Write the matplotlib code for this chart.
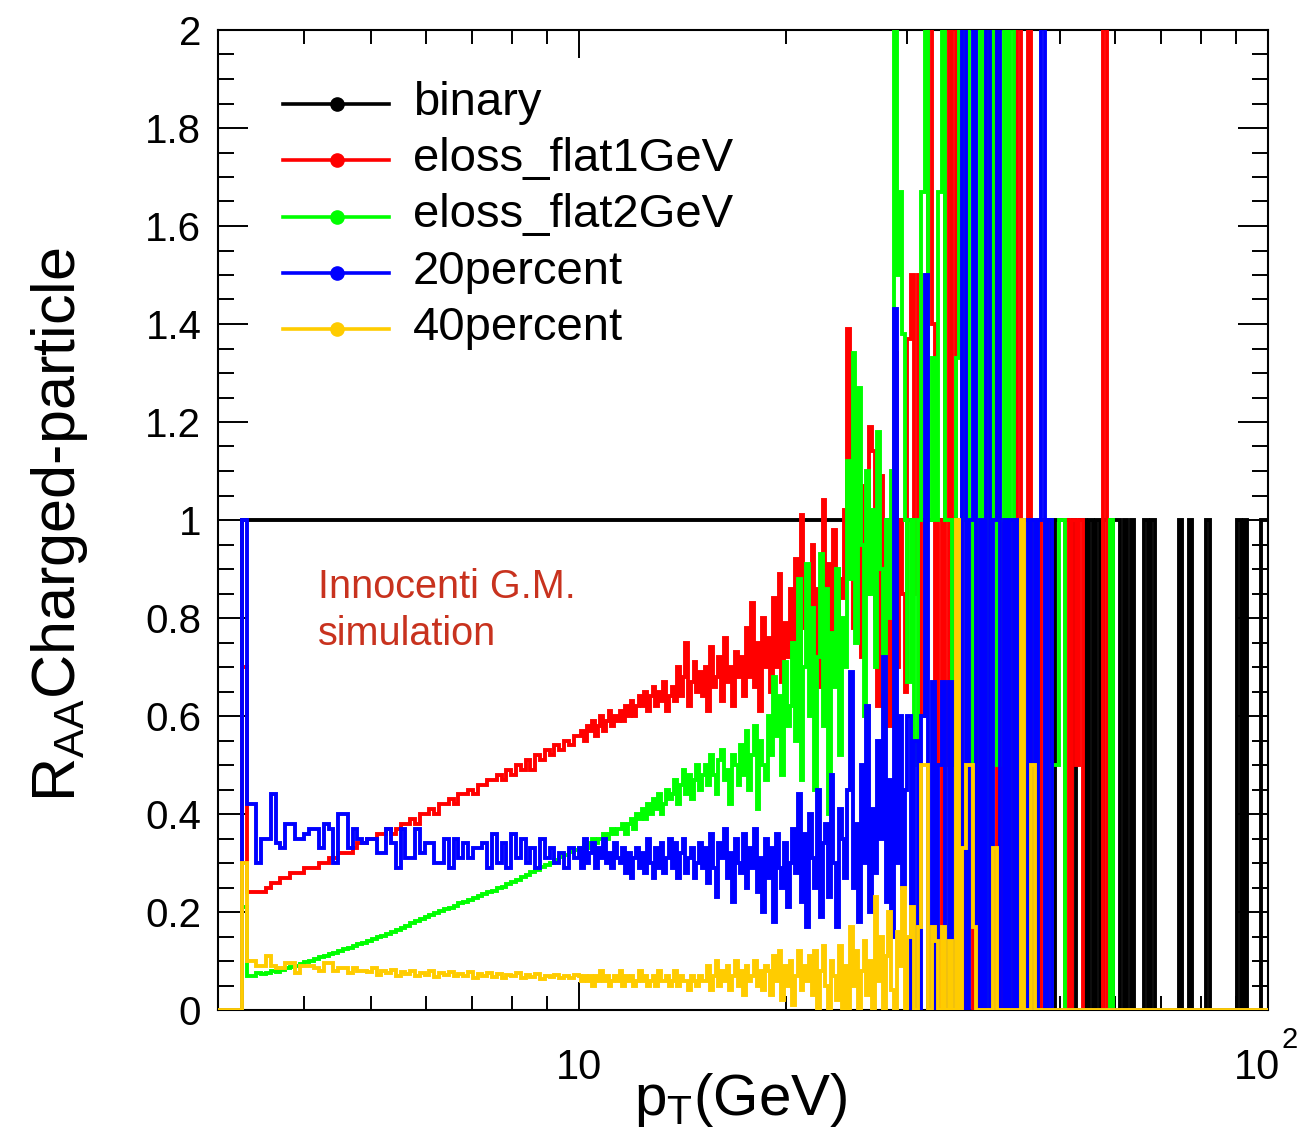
import numpy as np
import matplotlib.pyplot as plt
from matplotlib.lines import Line2D
from matplotlib.ticker import FixedLocator, NullFormatter

plt.rcParams['font.family'] = ['Liberation Sans', 'DejaVu Sans']
plt.rcParams['mathtext.default'] = 'regular'

# pT binning (GeV): empty bin below 3.25, then log bins in three ranges
pt_min = 3.0
pt_first = 3.25
pt_knee1 = 10.0
pt_knee2 = 30.0
pt_max = 100.0
n_high = 105  # bins between 30 and 100 GeV

labels = ['binary', 'eloss_flat1GeV', 'eloss_flat2GeV', '20percent', '40percent']
colors = ['#000000', '#ff0000', '#00ff00', '#0000ff', '#ffcc00']

# ---- binary (flat at 1 until the statistics run out) ----
binary_low = [1.0]
binary_mid = [1.0]
binary_high = [1, 1, 1, 1, 1, 1, 1, 1, 1, 1, 1, 1, 1, 1, 1, 1, 1, 1, 1, 1, 1,
               1, 1, 1, 1, 1, 1, 1, 1, 1, 1, 1, 1, 1, 1, 1, 1, 1, 1, 1, 1, 1,
               0, 1, 1, 1, 1, 1, 0, 1, 1, 1, 0, 1, 0, 1, 0, 1, 1, 0, 1, 1,
               0, 1, 0, 1, 0, 0, 0, 1, 0, 1, 0, 0, 0, 0, 0, 0, 0, 1, 0, 0,
               1, 0, 0, 0, 0, 1, 0, 0, 0, 0, 0, 0, 0, 0, 1, 0, 1, 0, 0, 0, 0,
               1, 1]

# ---- eloss_flat1GeV ----
flat1_low = [0.70,
             0.24, 0.24, 0.24, 0.24, 0.25, 0.26, 0.26, 0.27, 0.27, 0.28, 0.28, 0.28,
             0.29, 0.29, 0.29, 0.30, 0.30, 0.31, 0.31, 0.32, 0.32, 0.32, 0.33, 0.34, 0.34,
             0.35, 0.35, 0.36, 0.36, 0.37, 0.36, 0.37, 0.38, 0.38, 0.39, 0.38, 0.40, 0.40,
             0.41, 0.40, 0.42, 0.42, 0.43, 0.42, 0.44, 0.44, 0.45, 0.44, 0.46, 0.46, 0.47,
             0.47, 0.48, 0.47, 0.49, 0.48, 0.50, 0.49, 0.51, 0.49, 0.52, 0.51, 0.53, 0.52,
             0.54, 0.53, 0.55, 0.54, 0.56]
flat1_mid = [0.56, 0.57, 0.55, 0.58, 0.57, 0.59, 0.56, 0.58, 0.60, 0.57, 0.59, 0.61, 0.58, 0.60, 0.59,
             0.61, 0.59, 0.62, 0.60, 0.63, 0.60, 0.62, 0.64,
             0.62, 0.65, 0.61, 0.64, 0.66, 0.62, 0.65, 0.63, 0.67, 0.61, 0.64,
             0.66, 0.63, 0.70, 0.64, 0.68, 0.75, 0.62, 0.67, 0.71, 0.65, 0.69, 0.64,
             0.70, 0.61, 0.74, 0.66, 0.68, 0.72, 0.63, 0.76, 0.67, 0.70, 0.62, 0.73, 0.68,
             0.72, 0.64, 0.78, 0.68, 0.83, 0.66, 0.75, 0.61, 0.80, 0.70,
             0.76, 0.65, 0.84, 0.70, 0.89, 0.67, 0.79, 0.72, 0.86,
             0.74, 0.92, 0.68, 1.01, 0.78, 0.88, 0.70,
             0.95, 0.72, 0.86, 0.66, 1.04, 0.80, 0.91, 0.75, 0.98, 0.69, 0.88, 0.84, 1.02,
             1.39, 0.95, 0.78, 0.88, 1.06, 0.72, 1.07, 0.85, 1.19, 1.14, 0.80, 0.62, 1.09,
             0.75, 0.90, 0.58, 0.96, 1.34, 0.70, 1.00, 0.85, 0.65]
flat1_high = [1.37, 1.50, 0.85, 1.50, 0.60, 1.00, 3.00, 1.40, 0.50, 1.00,
              0.00, 3.00, 0.50, 3.00, 0.67, 1.00, 0.00, 0.50, 1.00, 0.00,
              1.00, 0.00, 0.50, 0.00, 1.00, 3.00, 0.00, 1.00, 0.00, 0.50,
              0.00, 1.00, 3.00, 0.00, 1.00, 3.00, 0.00, 0.50, 1.00, 0.00,
              1.00, 0.00, 0.00, 0.00, 0.00, 0.00, 1.00, 0.00, 1.00, 0.50,
              1.00, 0.00, 0.00, 0.00, 0.00, 0.00, 0.00, 3.00, 0.00]

# ---- eloss_flat2GeV ----
flat2_low = [0.21,
             0.070, 0.070, 0.075, 0.073, 0.076, 0.080, 0.078, 0.082, 0.085, 0.088,
             0.090, 0.094, 0.098, 0.100, 0.104, 0.108, 0.110, 0.114, 0.116, 0.120,
             0.124, 0.126, 0.130, 0.134, 0.136, 0.140, 0.145, 0.148, 0.152, 0.155,
             0.160, 0.164, 0.168, 0.172, 0.177, 0.181, 0.186, 0.190, 0.193, 0.198,
             0.202, 0.206, 0.209, 0.213, 0.218, 0.221, 0.225, 0.229, 0.232, 0.236,
             0.240, 0.243, 0.248, 0.252, 0.257, 0.261, 0.266, 0.271, 0.276, 0.281,
             0.286, 0.291, 0.296, 0.301, 0.306, 0.312, 0.317, 0.322, 0.327]
flat2_mid = [0.33, 0.33, 0.34, 0.33, 0.34, 0.35, 0.34, 0.35, 0.35, 0.36, 0.35, 0.36, 0.37, 0.36, 0.37,
             0.37, 0.38, 0.36, 0.38, 0.39, 0.37, 0.40, 0.39,
             0.41, 0.39, 0.42, 0.40, 0.43, 0.41, 0.44, 0.40, 0.42, 0.45, 0.43,
             0.44, 0.47, 0.42, 0.46, 0.49, 0.44, 0.48, 0.43, 0.47, 0.50, 0.45, 0.48,
             0.50, 0.46, 0.52, 0.48, 0.44, 0.51, 0.53, 0.47, 0.49, 0.42, 0.52, 0.50, 0.46,
             0.54, 0.48, 0.57, 0.45, 0.52, 0.58, 0.41, 0.55, 0.50, 0.47,
             0.60, 0.52, 0.68, 0.56, 0.64, 0.48, 0.71, 0.58, 0.62,
             0.75, 0.55, 0.88, 0.47, 0.70, 0.91, 0.60,
             0.82, 0.45, 0.72, 0.93, 0.58, 0.86, 0.40, 0.77, 0.66, 0.90, 0.52, 0.80, 0.70,
             1.12, 0.88, 1.34, 0.75, 1.27, 0.95, 0.60, 1.10, 0.85, 1.02, 0.70, 1.18,
             0.90, 0.65, 1.00, 0.80, 1.10, 3.00, 1.50, 1.67, 1.38, 1.00]
flat2_high = [0.67, 1.00, 0.50, 1.00, 1.67, 3.00, 1.00, 1.33, 1.00, 1.67,
              3.00, 1.00, 1.00, 0.50, 1.33, 3.00, 1.00, 3.00, 0.50, 1.00,
              3.00, 0.50, 3.00, 0.00, 3.00, 1.00, 0.50, 1.00, 3.00, 0.00,
              3.00, 1.00, 0.00, 0.00, 0.50, 0.00, 0.00, 1.00, 0.00, 0.00,
              0.00, 0.00, 0.50, 0.50, 1.00, 1.00, 0.00, 0.00, 0.00, 0.00,
              0.00, 0.00, 0.00, 0.00, 0.00, 0.00, 0.00, 0.00, 0.00, 1.00]

# ---- 20percent ----
p20_low = [1.00,
           0.42, 0.42, 0.30, 0.35, 0.35, 0.44, 0.34, 0.33, 0.38, 0.38, 0.35, 0.35,
           0.36, 0.37, 0.37, 0.33, 0.38, 0.37, 0.30, 0.40, 0.40, 0.33, 0.37,
           0.35, 0.34, 0.35, 0.35, 0.32, 0.32, 0.37, 0.34, 0.29, 0.37, 0.31, 0.31,
           0.37, 0.32, 0.34, 0.34, 0.30, 0.30, 0.35, 0.29, 0.35, 0.31, 0.34, 0.31,
           0.33, 0.33, 0.34, 0.29,
           0.36, 0.30, 0.34, 0.29, 0.36, 0.31, 0.35, 0.30, 0.33, 0.29, 0.35, 0.31,
           0.33, 0.30, 0.32, 0.29, 0.33, 0.31]
p20_mid = [0.33, 0.29, 0.35, 0.30, 0.32, 0.34, 0.29, 0.33, 0.31, 0.35, 0.30, 0.32, 0.29, 0.34, 0.31,
           0.30, 0.33, 0.28, 0.32, 0.27, 0.31, 0.33, 0.29,
           0.32, 0.28, 0.35, 0.30, 0.27, 0.33, 0.29, 0.34, 0.28, 0.31, 0.35,
           0.29, 0.34, 0.27, 0.32, 0.35, 0.28, 0.31, 0.33, 0.27, 0.30, 0.34, 0.29,
           0.33, 0.26, 0.36, 0.29, 0.23, 0.34, 0.31, 0.37, 0.27, 0.32,
           0.22, 0.35, 0.30, 0.28, 0.36, 0.25, 0.33, 0.29, 0.37, 0.24,
           0.31, 0.20, 0.35, 0.27, 0.33, 0.18, 0.36, 0.29, 0.25, 0.34, 0.21, 0.30, 0.37,
           0.28, 0.44, 0.22, 0.36, 0.17, 0.40, 0.31, 0.25, 0.45, 0.19, 0.34, 0.38,
           0.23, 0.48, 0.30, 0.17, 0.41, 0.35, 0.27,
           0.45, 0.69, 0.25, 0.38, 0.18, 0.50, 0.30, 0.62, 0.20, 0.41, 0.28,
           0.55, 0.35, 0.72, 0.22, 0.47, 0.15, 1.43, 0.30, 0.60, 0.25, 0.45]
p20_high = [0.60, 0.00, 0.55, 0.00, 0.60, 1.50, 0.00,
            0.67, 0.00, 0.50, 0.67, 0.00, 0.67, 0.00, 0.67, 0.00,
            3.00, 0.00, 1.00, 3.00, 0.00, 1.00, 0.00, 3.00, 0.00, 1.00,
            3.00, 0.00, 1.00, 0.00, 1.00, 0.00, 1.00, 0.00, 1.00, 0.00,
            1.00, 0.00, 1.00, 3.00, 0.00, 1.00, 0.00]

# ---- 40percent ----
p40_low = [0.30,
           0.10, 0.10, 0.09, 0.09, 0.11, 0.09, 0.085, 0.085, 0.095, 0.095, 0.075, 0.09,
           0.09, 0.09, 0.085, 0.08, 0.095, 0.095, 0.08, 0.085, 0.085, 0.075, 0.085, 0.08, 0.08,
           0.078, 0.085, 0.072, 0.080, 0.075, 0.082, 0.070, 0.078, 0.074, 0.080, 0.070, 0.076,
           0.072, 0.079, 0.068, 0.075, 0.071, 0.078, 0.069, 0.074, 0.070, 0.077, 0.066, 0.073,
           0.070, 0.075,
           0.068, 0.074, 0.065, 0.072, 0.069, 0.075, 0.066, 0.071, 0.068, 0.073, 0.064, 0.070,
           0.067, 0.072, 0.065, 0.070, 0.066, 0.071]
p40_mid = [0.07, 0.06, 0.07, 0.06, 0.07, 0.05, 0.07, 0.06, 0.08, 0.06,
           0.07, 0.05, 0.06, 0.07, 0.06, 0.08, 0.05, 0.07, 0.06, 0.07,
           0.05, 0.06, 0.08, 0.06, 0.07, 0.05, 0.06, 0.07, 0.05, 0.08,
           0.06, 0.06, 0.07, 0.05, 0.06, 0.08, 0.05, 0.07, 0.06, 0.06,
           0.04, 0.07, 0.06, 0.05, 0.07, 0.06,
           0.06, 0.09, 0.04, 0.07, 0.10, 0.05, 0.08, 0.06, 0.09, 0.04, 0.07, 0.10,
           0.05, 0.08, 0.03, 0.09, 0.06, 0.07, 0.10, 0.05, 0.08, 0.04, 0.09,
           0.08, 0.03, 0.11, 0.06, 0.12, 0.02, 0.09, 0.05, 0.10, 0.01, 0.07, 0.12,
           0.04, 0.09, 0.06, 0.11,
           0.03, 0.12, 0.00, 0.08, 0.13, 0.05, 0.00, 0.10, 0.07, 0.02, 0.13, 0.00, 0.09,
           0.00, 0.17, 0.05, 0.12, 0.00, 0.08, 0.14, 0.03, 0.10, 0.00, 0.23,
           0.06, 0.15, 0.00, 0.11, 0.20, 0.04, 0.00, 0.16, 0.09, 0.25, 0.00]
p40_high = [0.15, 0.21, 0.00, 0.17, 0.50, 0.50, 0.00, 0.17, 0.14, 0.00,
            0.17, 0.00, 0.14, 0.00, 1.00, 0.00, 0.33, 0.50, 0.50, 0.17,
            0.00, 0.00, 0.00, 0.00, 0.00, 0.33, 0.00, 0.00, 0.00, 0.00,
            0.00, 0.00, 0.00, 1.00, 0.00, 0.00, 0.50, 0.00]

series = [
    (binary_low, binary_mid, binary_high),
    (flat1_low, flat1_mid, flat1_high),
    (flat2_low, flat2_mid, flat2_high),
    (p20_low, p20_mid, p20_high),
    (p40_low, p40_mid, p40_high),
]

y_ticks = [0, 0.2, 0.4, 0.6, 0.8, 1.0, 1.2, 1.4, 1.6, 1.8, 2.0]
y_ticklabels = ['0', '0.2', '0.4', '0.6', '0.8', '1', '1.2', '1.4', '1.6', '1.8', '2']
x_minor = [4, 5, 6, 7, 8, 9, 20, 30, 40, 50, 60, 70, 80, 90]


def build(low, mid, high):
    high = list(high) + [0.0] * (n_high - len(high))  # empty bins
    edges = np.concatenate([[pt_min],
                            np.geomspace(pt_first, pt_knee1, len(low) + 1),
                            np.geomspace(pt_knee1, pt_knee2, len(mid) + 1)[1:],
                            np.geomspace(pt_knee2, pt_max, n_high + 1)[1:]])
    vals = np.concatenate([[0.0], low, mid, high])
    return vals, edges


W, H = 1299, 1142
fig = plt.figure(figsize=(W / 100, H / 100), dpi=100)
ax = fig.add_axes([218 / W, 1 - 1010 / H, (1268 - 218) / W, (1010 - 30) / H])

for i, (lo, mi, hi) in enumerate(series):
    vals, edges = build(lo, mi, hi)
    ax.stairs(vals, edges, color=colors[i], lw=2.8, baseline=None, zorder=2 + i)

ax.set_xscale('log')
ax.set_xlim(pt_min, pt_max)
ax.set_ylim(0, 2)

ax.xaxis.set_major_locator(FixedLocator([10, 100]))
ax.xaxis.set_minor_locator(FixedLocator(x_minor))
ax.xaxis.set_minor_formatter(NullFormatter())
ax.set_xticklabels([])
ax.set_yticks(y_ticks)
ax.set_yticklabels(y_ticklabels)
ax.yaxis.set_minor_locator(FixedLocator(np.arange(0, 2.001, 0.05)))

ax.tick_params(which='both', direction='in', top=True, right=True, width=1.4)
ax.tick_params(axis='x', which='major', length=20)
ax.tick_params(axis='x', which='minor', length=10)
ax.tick_params(axis='y', which='major', length=21.5, labelsize=29, pad=12)
ax.tick_params(axis='y', which='minor', length=11.5)
for sp in ax.spines.values():
    sp.set_linewidth(1.5)

# x tick labels in ROOT style
tlab = dict(xycoords=('data', 'axes fraction'), textcoords='offset points',
            va='baseline')
ax.annotate('10', xy=(10, 0), xytext=(0, -50), ha='center', fontsize=30, **tlab)
ax.annotate('10', xy=(100, 0), xytext=(-8, -50), ha='center', fontsize=30, **tlab)
ax.annotate('2', xy=(100, 0), xytext=(10, -27), ha='left', fontsize=21, **tlab)

# axis titles
fig.text(741 / W, 1 - 1100 / H, '$p_{T}$(GeV)', fontsize=42,
         ha='center', va='center')
fig.text(60 / W, 1 - 525 / H, '$R_{AA}$Charged-particle',
         fontsize=44, rotation=90, ha='center', va='center')

# legend
row_y = [104, 160, 216.5, 272.7, 329.3]
for i, lab in enumerate(labels):
    y = 1 - row_y[i] / H
    fig.add_artist(Line2D([283 / W, 389 / W], [y, y], color=colors[i], lw=2.6,
                          transform=fig.transFigure))
    fig.add_artist(Line2D([337 / W], [y], color=colors[i], marker='o', ms=9.5,
                          transform=fig.transFigure))
    fig.text(413 / W, 1 - (row_y[i] + 11) / H, lab, fontsize=34, va='baseline')

# simulation note
fig.text(318 / W, 1 - 598 / H, 'Innocenti G.M.', color='#c8321e', fontsize=28.5,
         va='baseline')
fig.text(318 / W, 1 - 645 / H, 'simulation', color='#c8321e', fontsize=28.5,
         va='baseline')

fig.savefig('out.png', dpi=100)
